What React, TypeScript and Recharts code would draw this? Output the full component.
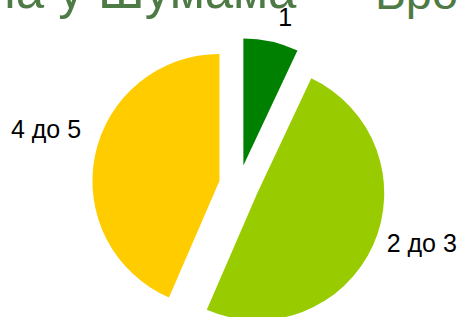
import React from 'react';
import { PieChart, Pie, Cell } from 'recharts';

const categories = ['1', '2 до 3', '4 до 5'];
const values = [7, 49.5, 43.5];
const colors = ['#008000', '#99cc00', '#ffcc00'];
const titleParts = ['ла у Шумама', 'Бро'];

const data = categories.map((name, i) => ({ name, value: values[i] }));

const W = 461;
const H = 317;
const CX = 239;
const CY = 185;
const R = 127;
const EXPLODE = 20;
const RAD = Math.PI / 180;

const total = values.reduce((a, b) => a + b, 0);
// clockwise-from-top mid angle of each slice
const midAngles = values.map((v, i) => {
  const before = values.slice(0, i).reduce((a, b) => a + b, 0);
  return ((before + v / 2) / total) * 360;
});

// label placement (style config): distance from slice centre and angle tweak
const labelStyle = [
  { dist: 154, tweak: 3.2 },
  { dist: 172, tweak: -7.4 },
  { dist: 181, tweak: 5 },
];

const makeLabel = (target: number) => (props: any) => {
  if (props.index !== target) return null;
  const { cx, cy, midAngle } = props;
  const a = (midAngle - labelStyle[target].tweak) * RAD;
  const r = labelStyle[target].dist;
  const x = cx + r * Math.cos(a);
  const y = cy - r * Math.sin(a);
  return (
    <text
      key={`l-${target}`}
      x={x}
      y={y}
      textAnchor="middle"
      dominantBaseline="central"
      fill="#000"
      fontSize={25}
      fontFamily="'Liberation Sans', Arial, sans-serif"
    >
      {categories[target]}
    </text>
  );
};

export default function App() {
  return (
    <div style={{ position: 'absolute', left: 0, top: 0, width: W, height: H, overflow: 'hidden', background: '#fff' }}>
      <svg width={W} height={H} style={{ position: 'absolute', left: 0, top: 0 }}>
        <text x={-14} y={8} fontSize={51} fill="#4e7b45" fontFamily="'Liberation Sans', Arial, sans-serif">
          {titleParts[0]}
        </text>
        <text x={375} y={9} fontSize={47} fill="#4e7b45" fontFamily="'Liberation Sans', Arial, sans-serif">
          {titleParts[1]}
        </text>
      </svg>
      <div style={{ position: 'absolute', left: 0, top: 0 }}>
        <PieChart width={W} height={H} margin={{ top: 0, right: 0, bottom: 0, left: 0 }}>
          {categories.map((_, target) => {
            const m = midAngles[target] * RAD;
            const cx = CX + EXPLODE * Math.sin(m);
            const cy = CY - EXPLODE * Math.cos(m);
            return (
              <Pie
                key={target}
                data={data}
                dataKey="value"
                nameKey="name"
                cx={cx}
                cy={cy}
                outerRadius={R}
                innerRadius={0}
                startAngle={90}
                endAngle={-270}
                isAnimationActive={false}
                labelLine={false}
                label={makeLabel(target)}
                stroke="none"
              >
                {data.map((d, i) => (
                  <Cell key={i} fill={i === target ? colors[i] : 'none'} stroke="none" />
                ))}
              </Pie>
            );
          })}
        </PieChart>
      </div>
    </div>
  );
}
